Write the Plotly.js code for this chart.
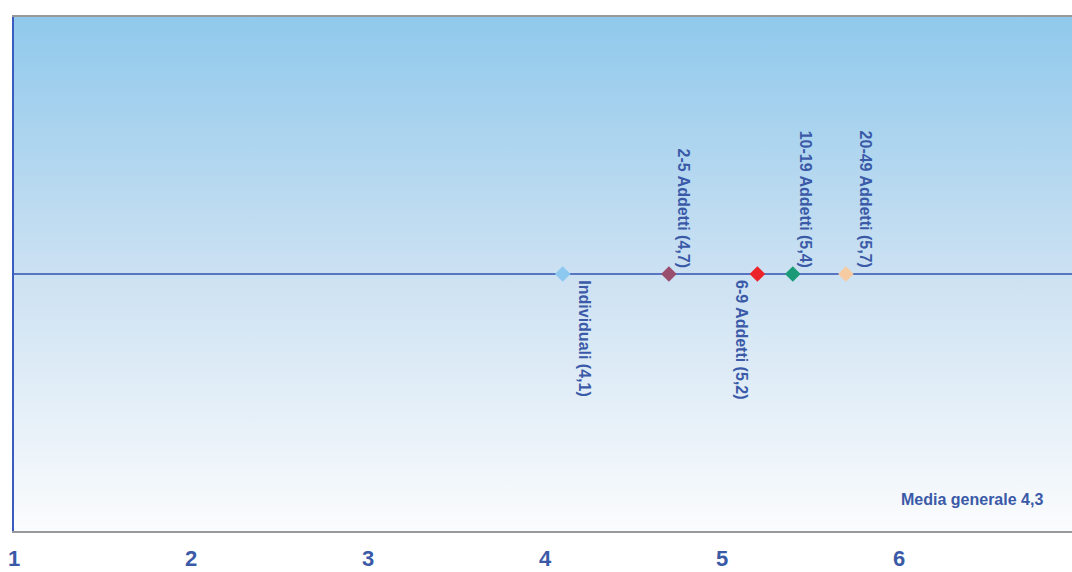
<!DOCTYPE html>
<html>
<head>
<meta charset="utf-8">
<script src="https://cdn.plot.ly/plotly-3.0.1.min.js"></script>
<style>
html,body{margin:0;padding:0;overflow:hidden;background:#fff;}
#chart{width:1080px;height:572px;}
</style>
</head>
<body>
<div id="chart"></div>
<script>
// Data
var categories = ["Individuali", "2-5 Addetti", "6-9 Addetti", "10-19 Addetti", "20-49 Addetti"];
var values = [4.1, 4.7, 5.2, 5.4, 5.7];
var baseline = [0, 0, 0, 0, 0];
var markerColors = ["#8CC8F0", "#9A4E6E", "#EC2328", "#1B9A77", "#F6CBA2"];
var labelAbove = [false, true, false, true, true];
var labelShift = [22, 15, -16, 13, 20];
var mediaGenerale = 4.3;
var tickValues = [1, 2, 3, 4, 5, 6, 7];
var tickLabels = ["1", "2", "3", "4", "5", "6", "7"];

function fmt(v) { return v.toString().replace('.', ','); }

var textColor = "#3A5AA8";
var fontFam = 'Liberation Sans, Arial, sans-serif';

var trace = {
  type: 'scatter',
  mode: 'markers',
  x: values,
  y: baseline,
  marker: {symbol: 'diamond', size: 12, color: markerColors, line: {width: 0}},
  hoverinfo: 'skip',
  cliponaxis: false
};

var annotations = categories.map(function (c, i) {
  return {
    x: values[i], y: baseline[i], xref: 'x', yref: 'y',
    text: c + ' (' + fmt(values[i]) + ')',
    showarrow: false, textangle: 90,
    xanchor: 'center',
    yanchor: labelAbove[i] ? 'bottom' : 'top',
    xshift: labelShift[i],
    yshift: labelAbove[i] ? 4 : -4,
    font: {family: fontFam, size: 16, color: textColor, weight: 'bold'}
  };
});
annotations.push({
  xref: 'paper', yref: 'paper', x: 0.971, y: 0.062,
  xanchor: 'right', yanchor: 'middle', showarrow: false,
  text: 'Media generale ' + fmt(mediaGenerale),
  font: {family: fontFam, size: 16, color: textColor, weight: 'bold'}
});

var gradSvg = '<svg xmlns="http://www.w3.org/2000/svg" width="100" height="100" preserveAspectRatio="none">' +
  '<defs><linearGradient id="g" x1="0" y1="0" x2="0" y2="1">' +
  '<stop offset="0" stop-color="#90C9EC"/>' +
  '<stop offset="0.5" stop-color="#CCE1F2"/>' +
  '<stop offset="1" stop-color="#FBFCFD"/>' +
  '</linearGradient></defs><rect width="100" height="100" fill="url(#g)"/></svg>';

var layout = {
  width: 1080, height: 572,
  margin: {l: 14, r: 4, t: 17, b: 41},
  paper_bgcolor: '#ffffff',
  plot_bgcolor: 'rgba(0,0,0,0)',
  showlegend: false,
  font: {family: fontFam},
  xaxis: {
    range: [1, 7], tickvals: tickValues, ticktext: tickLabels,
    showgrid: false, zeroline: false, ticks: '',
    showline: true, linecolor: '#999999', linewidth: 2, mirror: true,
    ticklabelstandoff: 7,
    tickfont: {family: fontFam, size: 22, color: textColor, weight: 'bold'},
    fixedrange: true
  },
  yaxis: {
    range: [-1, 1], showgrid: false, zeroline: false, showticklabels: false, ticks: '',
    showline: true, linecolor: '#3A5CC0', linewidth: 2, fixedrange: true
  },
  shapes: [{
    type: 'line', xref: 'paper', yref: 'y', x0: 0, x1: 1, y0: 0, y1: 0,
    line: {color: '#3050B0', width: 1.3}, layer: 'below'
  }],
  images: [{
    source: 'data:image/svg+xml;charset=utf-8,' + encodeURIComponent(gradSvg),
    xref: 'paper', yref: 'paper', x: 0, y: 1, sizex: 1, sizey: 1,
    sizing: 'stretch', xanchor: 'left', yanchor: 'top', layer: 'below'
  }],
  annotations: annotations
};

Plotly.newPlot('chart', [trace], layout, {displayModeBar: false, staticPlot: true});
</script>
</body>
</html>
